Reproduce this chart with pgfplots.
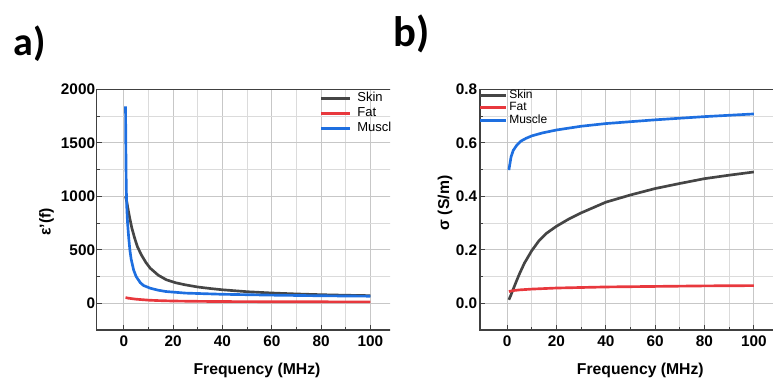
\documentclass[border=0pt]{standalone}
\usepackage{pgfplots}
\pgfplotsset{compat=1.18}
\usepackage{fontspec}
\setmainfont{Liberation Sans}
\newfontfamily\calib{Carlito}
\definecolor{cskin}{HTML}{454545}
\definecolor{cfat}{HTML}{E8383D}
\definecolor{cmus}{HTML}{1E6FE0}
\pgfplotsset{
 mystyle/.style={
  scale only axis, width=240.5pt, height=180.5pt,
  xmin=-11, xmax=119,
  xtick={0,20,40,60,80,100}, minor xtick={10,30,50,70,90},
  grid=both,
  major grid style={black!22, line width=0.5pt},
  minor grid style={black!14, line width=0.5pt},
  tick align=inside, xtick pos=left, ytick pos=left,
  major tick length=4pt, minor tick length=2.5pt,
  axis line style={color=black!75, line width=0.8pt},
  tick style={color=black!75, line width=0.6pt},
  /pgf/number format/assume math mode=true,
  /pgf/number format/1000 sep={},
  ticklabel style={font=\fontsize{11.5}{13}\selectfont\bfseries},
  xticklabel style={yshift=-1.0pt},
  label style={font=\fontsize{11.8}{14}\selectfont\bfseries},
  xlabel style={at={(axis description cs:0.5,0)}, anchor=base, yshift=-33pt},
  legend cell align=left,
  every axis plot/.append style={line width=2pt},
 }
}
\begin{document}
\begin{tikzpicture}
\path[use as bounding box] (0,0) rectangle (579.75pt,289.5pt);
\clip (0,0) rectangle (579.75pt,289.5pt);
\begin{scope}
\clip (0,0) rectangle (292.5pt,289.5pt);
\begin{axis}[mystyle, at={(72.5pt,42pt)}, anchor=south west,
  ymin=-250, ymax=2000,
  ytick={0,500,1000,1500,2000}, minor ytick={250,750,1250,1750},
  yticklabel style={inner sep=1pt},
  xlabel={Frequency (MHz)}, ylabel={ε'(f)},
  ylabel style={at={(axis description cs:-0.156,0.45)}, anchor=center},
  legend image code/.code={\draw[#1, line width=2.2pt] (0pt,0pt) -- (21.75pt,0pt);},
  legend style={draw=none, fill=none, at={(0.695,0.996)}, anchor=north west,
    inner sep=0pt, font=\fontsize{9.75}{11}\selectfont,
    nodes={inner sep=1pt, text height=7pt, text depth=2.25pt}, column sep=3.25pt},
]
\addplot[cskin, no marks] coordinates {(0.7,1000) (1.2,950) (1.8,870) (2.4,797) (3.3,700) (4.4,609) (5.5,530) (7.1,453) (9,380) (10.7,328) (14,262) (17.3,219) (21,192) (25,172) (30,152) (35,138) (40,126) (50,108) (60,96) (70,87) (80,80) (90,75) (100,71)};
\addlegendentry{Skin}
\addplot[cfat, no marks] coordinates {(0.7,53) (2,47) (5,38) (10,29) (14,25) (20,21) (30,18) (40,16) (60,14.5) (80,13.5) (100,12.7)};
\addlegendentry{Fat}
\addplot[cmus, no marks] coordinates {(0.7,1840) (0.8,1550) (0.9,1280) (1.0,1080) (1.2,900) (1.5,760) (2,610) (2.5,490) (3,410) (4,310) (5,250) (6.7,192) (8,166) (10.7,141) (14,122) (17,110) (25,95) (40,84) (60,76) (80,70) (100,66)};
\addlegendentry{Muscle}
\end{axis}
\end{scope}
\begin{axis}[mystyle, at={(360pt,42pt)}, anchor=south west,
  ymin=-0.1, ymax=0.8,
  ytick={0,0.2,0.4,0.6,0.8}, minor ytick={0.1,0.3,0.5,0.7},
  yticklabel style={inner sep=2pt, /pgf/number format/.cd, fixed, fixed zerofill, precision=1},
  xlabel={Frequency (MHz)}, ylabel={σ (S/m)},
  ylabel style={at={(axis description cs:-0.109,0.528)}, anchor=center},
  legend image code/.code={\draw[#1, line width=2.2pt] (0pt,0pt) -- (19.5pt,0pt);},
  legend style={draw=none, fill=none, at={(-0.004,1.003)}, anchor=north west,
    inner sep=0pt, font=\fontsize{9}{10}\selectfont,
    nodes={inner sep=1pt, text height=6pt, text depth=1.5pt}, column sep=0pt},
]
\addplot[cskin, no marks] coordinates {(0.7,0.013) (1.5,0.03) (2,0.042) (3,0.065) (4,0.088) (5,0.11) (7,0.15) (10,0.197) (13,0.235) (16,0.262) (20,0.288) (25,0.315) (30,0.338) (40,0.378) (50,0.405) (60,0.429) (70,0.448) (80,0.466) (90,0.479) (100,0.491)};
\addlegendentry{Skin}
\addplot[cfat, no marks] coordinates {(0.7,0.044) (3,0.048) (5,0.05) (10,0.053) (20,0.057) (30,0.059) (40,0.061) (60,0.063) (80,0.065) (100,0.066)};
\addlegendentry{Fat}
\addplot[cmus, no marks] coordinates {(0.7,0.498) (1,0.515) (1.6,0.548) (2.5,0.572) (3.9,0.591) (5.5,0.606) (7.7,0.617) (10,0.626) (14.3,0.637) (20,0.648) (30,0.662) (40,0.672) (50,0.679) (60,0.686) (70,0.692) (80,0.698) (90,0.703) (100,0.708)};
\addlegendentry{Muscle}
\end{axis}
\node[anchor=base west, inner sep=0pt, font=\calib\bfseries\fontsize{30}{32}\selectfont] at (10pt,247.5pt) {a)};
\node[anchor=base west, inner sep=0pt, font=\calib\bfseries\fontsize{32}{34}\selectfont] at (295pt,254.5pt) {b)};
\end{tikzpicture}
\end{document}
